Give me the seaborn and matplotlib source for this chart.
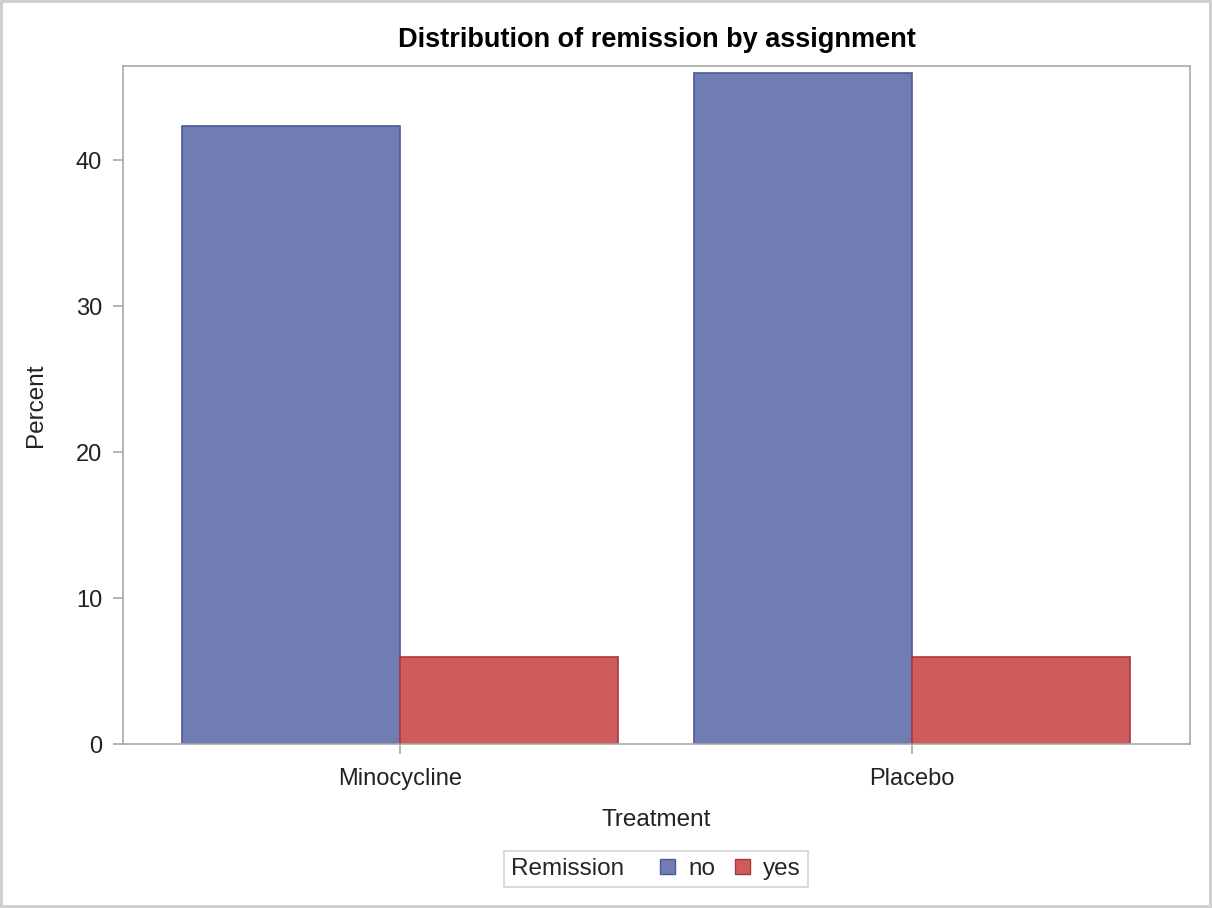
import pandas as pd
import matplotlib.pyplot as plt
import seaborn as sns
from matplotlib.offsetbox import HPacker

sns.set_style("white")
plt.rcParams['font.family'] = ['Liberation Sans', 'DejaVu Sans']

# values (percent of all subjects)
treatments = ["Minocycline", "Minocycline", "Placebo", "Placebo"]
remission = ["no", "yes", "no", "yes"]
percent = [42.3, 5.96, 45.95, 5.96]

df = pd.DataFrame({"Treatment": treatments, "Remission": remission, "Percent": percent})

fill = {"no": "#6f7db2", "yes": "#d05b5b"}
edge = {"no": "#4a5a9c", "yes": "#a83a3a"}

fig = plt.figure(figsize=(12.12, 9.08), dpi=100)
fig.patch.set_edgecolor("#cfcfcf")
fig.patch.set_linewidth(3)
ax = fig.add_axes([0.1015, 0.1806, 0.8803, 0.7467])

sns.barplot(data=df, x="Treatment", y="Percent", hue="Remission", palette=fill,
            width=0.85, saturation=1, linewidth=1.2, ax=ax, legend=False)
for bar, r in zip(ax.patches, ["no", "no", "yes", "yes"]):
    bar.set_edgecolor(edge[r])

ax.set_xlim(-0.541, 1.543)
ax.set_ylim(0, 46.44)
ax.set_yticks([0, 10, 20, 30, 40])
for s in ax.spines.values():
    s.set_color("#a8a8a8")
    s.set_linewidth(1.2)
ax.tick_params(axis="both", direction="out", length=7, width=1.2, color="#a8a8a8",
               bottom=True, left=True, labelsize=17, labelcolor="#222222")
ax.tick_params(axis="x", pad=10)
ax.tick_params(axis="y", pad=8)
ax.set_xlabel("Treatment", fontsize=17.5, color="#222222", labelpad=14)
ax.set_ylabel("Percent", fontsize=17.5, color="#222222", labelpad=21)
ax.set_title("Distribution of remission by assignment", fontsize=19.5,
             fontweight="bold", color="black", pad=14)

# legend with the title sitting left of the entries
handles = [plt.Rectangle((0, 0), 1, 1, facecolor=fill[k], edgecolor=edge[k]) for k in ["no", "yes"]]
leg = fig.legend(handles, ["no", "yes"], title="Remission", ncol=2, loc="center",
                 bbox_to_anchor=(0.541, 0.043), frameon=True, fancybox=False,
                 fontsize=17.5, title_fontsize=17.5, handlelength=0.62, handleheight=0.62,
                 handletextpad=0.53, columnspacing=0.82, borderpad=0.3, edgecolor="#c8c8c8")
children = leg._legend_box.get_children()
leg._legend_box = HPacker(pad=5, sep=26, align="center", children=children)
leg._legend_box.set_figure(fig)
leg._legend_box.set_offset(leg._findoffset)
leg.get_frame().set_linewidth(1.2)

fig.savefig("out.png", dpi=100)
